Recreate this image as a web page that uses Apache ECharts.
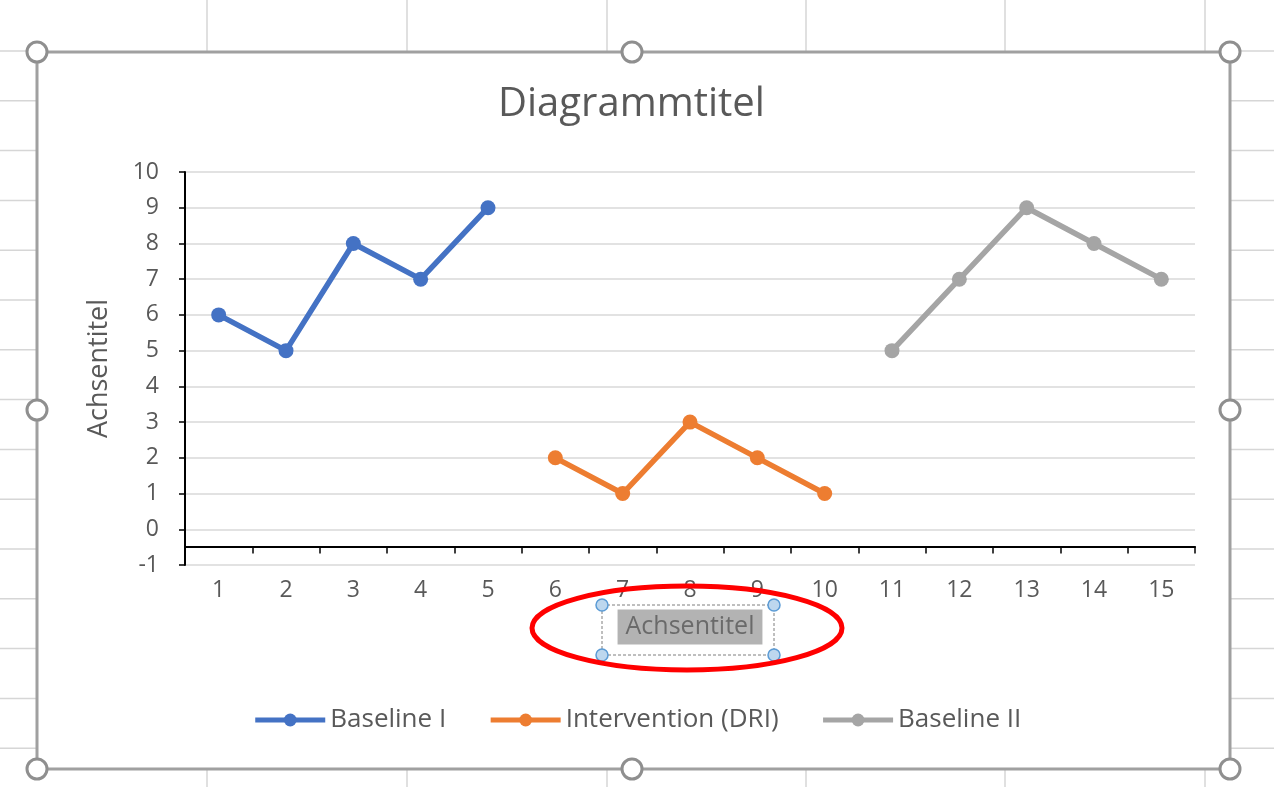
<!DOCTYPE html>
<html>
<head>
<meta charset="utf-8">
<script src="https://cdn.jsdelivr.net/npm/echarts@6/dist/echarts.min.js"></script>
<style>
html,body{margin:0;padding:0;background:#fff;}
#chart{width:1274px;height:787px;}
</style>
</head>
<body>
<div id="chart"></div>
<script>
const titleText = 'Diagrammtitel';
const xAxisTitle = 'Achsentitel';
const yAxisTitle = 'Achsentitel';
const categories = ['1','2','3','4','5','6','7','8','9','10','11','12','13','14','15'];
const baselineI = [6, 5, 8, 7, 9, null, null, null, null, null, null, null, null, null, null];
const intervention = [null, null, null, null, null, 2, 1, 3, 2, 1, null, null, null, null, null];
const baselineII = [null, null, null, null, null, null, null, null, null, null, 5, 7, 9, 8, 7];
const seriesNames = ['Baseline I', 'Intervention (DRI)', 'Baseline II'];
const colors = ['#4472C4', '#ED7D31', '#A5A5A5'];
const yMin = -1, yMax = 10, yInterval = 1;

const FONT = 'Open Sans';
const TXT = '#595959';

// Decorative Excel sheet background + chart selection frame
const deco = [];
const sheetLine = '#d6d6d6';
for (let k = 0; k < 15; k++) {
  const y = 51 + k * 49.8;
  deco.push({type:'line', silent:true, z:-10, shape:{x1:0,y1:y,x2:37,y2:y}, style:{stroke:sheetLine,lineWidth:1.5}});
  deco.push({type:'line', silent:true, z:-10, shape:{x1:1230,y1:y,x2:1274,y2:y}, style:{stroke:sheetLine,lineWidth:1.5}});
}
[207, 407, 607, 806, 1005, 1205].forEach(x => {
  deco.push({type:'line', silent:true, z:-10, shape:{x1:x,y1:0,x2:x,y2:52}, style:{stroke:sheetLine,lineWidth:1.5}});
  deco.push({type:'line', silent:true, z:-10, shape:{x1:x,y1:769,x2:x,y2:787}, style:{stroke:sheetLine,lineWidth:1.5}});
});
deco.push({type:'rect', silent:true, z:-5, shape:{x:37,y:52,width:1193,height:717}, style:{fill:'#fff', stroke:'#a0a0a0', lineWidth:3}});
[[37,52],[632,52],[1230,52],[37,410],[1230,410],[37,769],[632,769],[1230,769]].forEach(p => {
  deco.push({type:'circle', silent:true, z:100, shape:{cx:p[0],cy:p[1],r:10}, style:{fill:'#fff', stroke:'#8f8f8f', lineWidth:3}});
});
// selection box around x axis title
deco.push({type:'rect', silent:true, z:50, shape:{x:602,y:605,width:172,height:50}, style:{fill:null, stroke:'#7f7f7f', lineWidth:1, lineDash:[3,2]}});
[[602,605],[774,605],[602,655],[774,655]].forEach(p => {
  deco.push({type:'circle', silent:true, z:60, shape:{cx:p[0],cy:p[1],r:6}, style:{fill:'#bdd7ee', stroke:'#5b9bd5', lineWidth:1.5}});
});
// red annotation ellipse
deco.push({type:'ellipse', silent:true, z:70, shape:{cx:687,cy:628,rx:155,ry:42}, style:{fill:null, stroke:'#ff0000', lineWidth:5}});

const chart = echarts.init(document.getElementById('chart'), null, {renderer:'canvas'});

function mkSeries(name, data, color) {
  return {
    name: name, type: 'line', data: data, connectNulls: false,
    symbol: 'circle', symbolSize: 15,
    lineStyle: {width: 5.5, color: color},
    itemStyle: {color: color},
    emphasis: {disabled: true},
    animation: false
  };
}

chart.setOption({
  backgroundColor: '#fff',
  animation: false,
  color: colors,
  title: {
    text: titleText, left: 498, top: 85, padding: 0,
    textStyle: {fontFamily: FONT, fontSize: 40, fontWeight: 'normal', color: TXT}
  },
  legend: {
    bottom: 49, left: 'center',
    itemWidth: 70, itemHeight: 16, itemGap: 42,
    lineStyle: {width: 5},
    textStyle: {fontFamily: FONT, fontSize: 26, color: TXT},
    data: seriesNames
  },
  grid: {left: 185, right: 79, top: 172, bottom: 222, containLabel: false},
  xAxis: {
    type: 'category', data: categories, boundaryGap: true,
    offset: -18.5,
    axisLine: {show: true, onZero: false, lineStyle: {color: '#000', width: 2}},
    axisTick: {show: true, length: 7, lineStyle: {color: '#000', width: 1.5}},
    axisLabel: {fontFamily: FONT, fontSize: 23, color: TXT, margin: 32},
    splitLine: {show: false},
    name: xAxisTitle, nameLocation: 'middle', nameGap: 63, nameMoveOverlap: false,
    nameTextStyle: {fontFamily: FONT, fontSize: 25, color: '#6a6a6a', backgroundColor: '#b3b3b3', padding: [5, 8, 5, 8]}
  },
  yAxis: {
    type: 'value', min: yMin, max: yMax, interval: yInterval,
    axisLine: {show: true, lineStyle: {color: '#000', width: 2}},
    axisTick: {show: true, length: 6, lineStyle: {color: '#000', width: 1.5}},
    axisLabel: {fontFamily: FONT, fontSize: 23, color: TXT, margin: 26},
    splitLine: {show: true, lineStyle: {color: '#d9d9d9', width: 1.5}},
    name: yAxisTitle, nameLocation: 'middle', nameGap: 72, nameRotate: 90,
    nameTextStyle: {fontFamily: FONT, fontSize: 27, color: TXT}
  },
  series: [
    mkSeries(seriesNames[0], baselineI, colors[0]),
    mkSeries(seriesNames[1], intervention, colors[1]),
    mkSeries(seriesNames[2], baselineII, colors[2])
  ],
  graphic: deco
});
</script>
</body>
</html>
